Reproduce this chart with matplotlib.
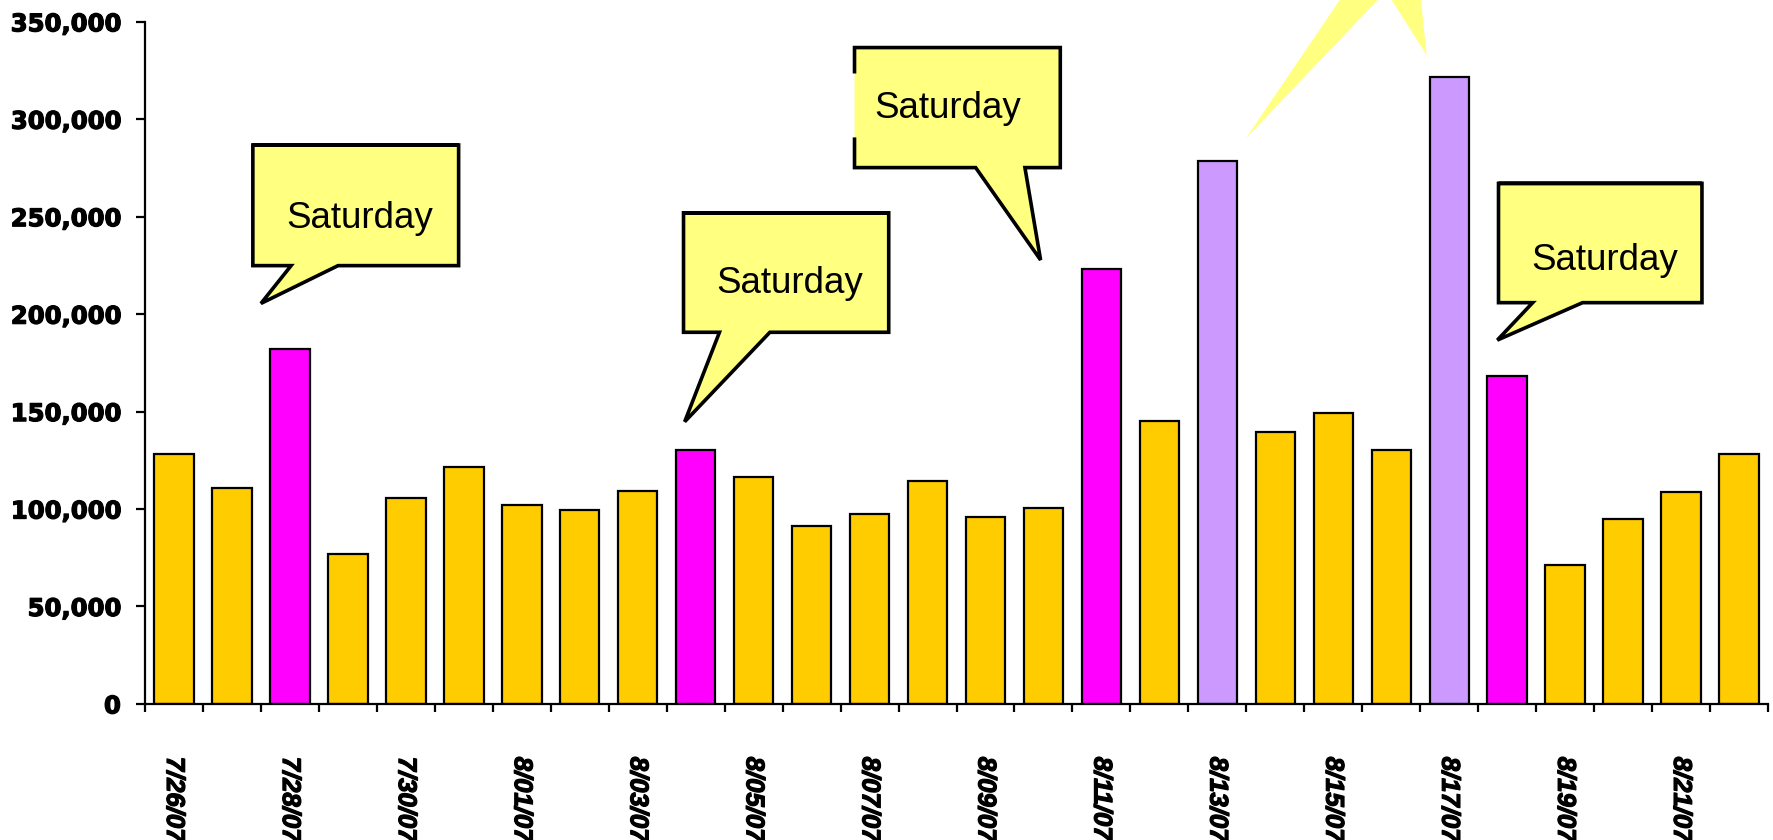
import matplotlib.pyplot as plt
import matplotlib.patheffects as pe
from matplotlib.patches import Polygon
from matplotlib.ticker import FuncFormatter, FixedLocator

# Daily visits, 7/26/07 - 8/22/07
dates = ["7/26/07", "7/27/07", "7/28/07", "7/29/07", "7/30/07", "7/31/07",
         "8/01/07", "8/02/07", "8/03/07", "8/04/07", "8/05/07", "8/06/07",
         "8/07/07", "8/08/07", "8/09/07", "8/10/07", "8/11/07", "8/12/07",
         "8/13/07", "8/14/07", "8/15/07", "8/16/07", "8/17/07", "8/18/07",
         "8/19/07", "8/20/07", "8/21/07", "8/22/07"]
visits = [128000, 111000, 182000, 77000, 105500, 121500,
          102000, 99500, 109500, 130500, 116500, 91500,
          97500, 114500, 96000, 100500, 223000, 145000,
          278500, 139500, 149500, 130500, 321500, 168500,
          71500, 95000, 109000, 128000]
saturdays = ["7/28/07", "8/04/07", "8/11/07", "8/18/07"]
spikes = ["8/13/07", "8/17/07"]

GOLD = "#FFCC00"
MAGENTA = "#FF00FF"
LILAC = "#CC99FF"
NOTE = "#FFFF80"

colors = []
for d in dates:
    if d in saturdays:
        colors.append(MAGENTA)
    elif d in spikes:
        colors.append(LILAC)
    else:
        colors.append(GOLD)

fig = plt.figure(figsize=(17.73, 8.4), dpi=100)
ax = fig.add_axes([0.0818, 0.162, 0.9154, 0.812])

x = list(range(len(dates)))
ax.bar(x, visits, width=0.68, color=colors, edgecolor="black", linewidth=1.6, zorder=2)

ax.set_xlim(-0.5, len(dates) - 0.5)
ax.set_ylim(0, 350000)
ax.set_yticks(range(0, 350001, 50000))
ax.yaxis.set_major_formatter(FuncFormatter(lambda v, p: f"{int(v):,}"))

for s in ["top", "right"]:
    ax.spines[s].set_visible(False)
for s in ["left", "bottom"]:
    ax.spines[s].set_linewidth(1.6)

# a thin outline makes the axis lettering a little heavier
heavy = [pe.withStroke(linewidth=0.9, foreground="black")]

tick_font = {"family": "DejaVu Sans", "weight": "bold", "size": 17.5}
ax.tick_params(axis="y", direction="out", length=6.5, width=1.6, pad=11)
for lab in ax.get_yticklabels():
    lab.set_fontproperties(tick_font)
    lab.set_path_effects(heavy)

# category boundaries get the tick marks, every other category gets a label
ax.xaxis.set_minor_locator(FixedLocator([i - 0.5 for i in range(len(dates) + 1)]))
ax.tick_params(axis="x", which="minor", direction="out", length=6, width=1.6)
ax.set_xticks(x[::2])
ax.set_xticklabels(dates[::2], rotation=-90, va="top", ha="center",
                   fontfamily="Liberation Sans", fontweight="bold",
                   fontstyle="italic", fontsize=18.5)
ax.tick_params(axis="x", which="major", length=0, pad=38)
for lab in ax.get_xticklabels():
    lab.set_path_effects(heavy)

# speech-bubble notes: box corners, tail base, tail tip, text anchor (data units)
notes = [
    dict(box=(1.36, 224900, 4.91, 286800), base=(2.02, 2.83), tip=(1.50, 205500),
         text=(3.21, 244000), gap=None),
    dict(box=(8.79, 190700, 12.33, 252000), base=(9.41, 10.28), tip=(8.81, 144800),
         text=(10.63, 210700), gap=None),
    dict(box=(11.74, 275200, 15.29, 336800), base=(13.83, 14.68), tip=(14.95, 227800),
         text=(13.34, 300500), gap=(290700, 323500)),
    dict(box=(22.85, 205900, 26.36, 267100), base=(23.44, 24.30), tip=(22.83, 186700),
         text=(24.68, 222600), gap=None),
]

for n in notes:
    x0, y0, x1, y1 = n["box"]
    b0, b1 = n["base"]
    tx, ty = n["tip"]
    ax.add_patch(Polygon([(x0, y1), (x1, y1), (x1, y0), (b1, y0), (tx, ty),
                          (b0, y0), (x0, y0)],
                         closed=True, facecolor=NOTE, edgecolor="none",
                         clip_on=False, zorder=5))
    if n["gap"] is None:
        outline = [(x0, y1), (x1, y1), (x1, y0), (b1, y0), (tx, ty),
                   (b0, y0), (x0, y0), (x0, y1), (x1, y1)]
    else:
        # left edge of this bubble is broken in the middle
        g0, g1 = n["gap"]
        outline = [(x0, g1), (x0, y1), (x1, y1), (x1, y0), (b1, y0), (tx, ty),
                   (b0, y0), (x0, y0), (x0, g0)]
    xs, ys = zip(*outline)
    ax.plot(xs, ys, color="black", linewidth=2.6, solid_joinstyle="miter",
            solid_capstyle="butt", clip_on=False, zorder=6)
    ax.text(n["text"][0], n["text"][1], "Saturday", ha="center", va="baseline",
            fontsize=26.5, fontfamily="Liberation Sans", zorder=7)

# pointers of a note sitting above the plot area, aimed at the two spikes
pointers = [
    [(20.13, 362000), (20.79, 362000), (18.49, 290200)],
    [(20.99, 362000), (21.51, 362000), (21.61, 332900)],
]
for tri in pointers:
    ax.add_patch(Polygon(tri, closed=True, facecolor=NOTE, edgecolor="none",
                         clip_on=False, zorder=5))

fig.savefig("out.png", dpi=100)
